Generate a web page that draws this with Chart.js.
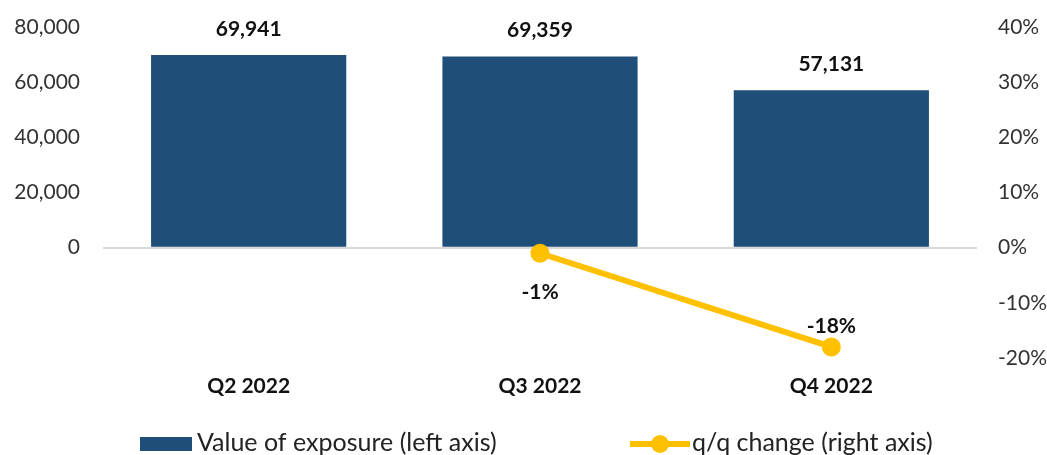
<!DOCTYPE html>
<html>
<head>
<meta charset="utf-8">
<script src="https://cdn.jsdelivr.net/npm/chart.js@4"></script>
<style>
html,body{margin:0;padding:0;background:#fff;}
#wrap{width:1047px;height:455px;}
</style>
</head>
<body>
<div id="wrap"><canvas id="c" width="1047" height="455"></canvas></div>
<script>
const categories = ['Q2 2022', 'Q3 2022', 'Q4 2022'];
const exposureValues = [69941, 69359, 57131];
const qqChange = [null, -0.01, -0.18];
const leftTicks = [0, 20000, 40000, 60000, 80000];
const rightTicks = [-0.2, -0.1, 0, 0.1, 0.2, 0.3, 0.4];
const seriesNames = ['Value of exposure (left axis)', 'q/q change (right axis)'];

const NAVY = '#1F4E79';
const GOLD = '#FFC000';
const FONT = 'Lato, "Open Sans", sans-serif';

const labelsPlugin = {
  id: 'valueLabels',
  afterDatasetsDraw(chart) {
    const ctx = chart.ctx;
    ctx.save();
    ctx.font = 'bold 21px ' + FONT;
    ctx.fillStyle = '#111';
    ctx.textAlign = 'center';
    ctx.textBaseline = 'middle';
    const barMeta = chart.getDatasetMeta(1);
    barMeta.data.forEach((el, i) => {
      ctx.fillText(exposureValues[i].toLocaleString('en-US'), el.x, el.y - 26);
    });
    const lineMeta = chart.getDatasetMeta(0);
    lineMeta.data.forEach((el, i) => {
      const v = qqChange[i];
      if (v === null) return;
      const txt = Math.round(v * 100) + '%';
      const dy = v > -0.1 ? 39 : -21;
      ctx.fillText(txt, el.x, el.y + dy);
    });
    ctx.restore();
  },
  afterDraw(chart) {
    const ctx = chart.ctx;
    ctx.save();
    const y = 444;
    ctx.fillStyle = NAVY;
    ctx.fillRect(140, y - 7, 52, 14);
    ctx.font = '25px ' + FONT;
    ctx.fillStyle = '#222';
    ctx.textBaseline = 'middle';
    ctx.textAlign = 'left';
    ctx.fillText(seriesNames[0], 197, y - 1);
    ctx.strokeStyle = GOLD;
    ctx.lineWidth = 6;
    ctx.beginPath();
    ctx.moveTo(630, y);
    ctx.lineTo(690, y);
    ctx.stroke();
    ctx.fillStyle = GOLD;
    ctx.beginPath();
    ctx.arc(660, y, 9, 0, Math.PI * 2);
    ctx.fill();
    ctx.fillStyle = '#222';
    ctx.fillText(seriesNames[1], 692, y - 1);
    ctx.restore();
  }
};

new Chart(document.getElementById('c'), {
  data: {
    labels: categories,
    datasets: [
      {
        type: 'line',
        label: seriesNames[1],
        data: qqChange,
        yAxisID: 'y1',
        borderColor: GOLD,
        backgroundColor: GOLD,
        borderWidth: 6,
        pointRadius: 9.5,
        pointHoverRadius: 9.5,
        pointBackgroundColor: GOLD,
        pointBorderWidth: 0,
        spanGaps: false,
        order: 0
      },
      {
        type: 'bar',
        label: seriesNames[0],
        data: exposureValues,
        yAxisID: 'y',
        backgroundColor: NAVY,
        borderWidth: 0,
        categoryPercentage: 0.67,
        barPercentage: 1.0,
        order: 1
      }
    ]
  },
  options: {
    responsive: false,
    animation: false,
    devicePixelRatio: 1,
    layout: { padding: { top: 0, bottom: 0, left: 0, right: 0 } },
    plugins: {
      legend: { display: false },
      tooltip: { enabled: false }
    },
    scales: {
      x: {
        grid: { display: false, drawTicks: false },
        border: { display: false },
        ticks: {
          color: '#111',
          font: { family: FONT, size: 21, weight: 'bold' },
          padding: 16
        },
        afterFit(s) { s.height = 97; }
      },
      y: {
        position: 'left',
        min: -40000,
        max: 80000,
        afterBuildTicks(s) { s.ticks = [-40000, -20000].concat(leftTicks).map(v => ({ value: v })); },
        ticks: {
          color: '#333',
          font: { family: FONT, size: 21, lineHeight: 0.4 },
          padding: 23,
          callback: v => v < 0 ? '' : v.toLocaleString('en-US')
        },
        grid: {
          drawTicks: false,
          color: c => c.tick && c.tick.value === 0 ? '#d9d9d9' : 'rgba(0,0,0,0)',
          lineWidth: 2
        },
        border: { display: false },
        afterFit(s) { s.width = 103; }
      },
      y1: {
        position: 'right',
        min: -0.2,
        max: 0.4,
        afterBuildTicks(s) { s.ticks = rightTicks.map(v => ({ value: v })); },
        ticks: {
          color: '#333',
          font: { family: FONT, size: 21, lineHeight: 0.4 },
          padding: 21,
          callback: v => Math.round(v * 100) + '%'
        },
        grid: { display: false, drawTicks: false },
        border: { display: false },
        afterFit(s) { s.width = 70; }
      }
    }
  },
  plugins: [labelsPlugin]
});
</script>
</body>
</html>
